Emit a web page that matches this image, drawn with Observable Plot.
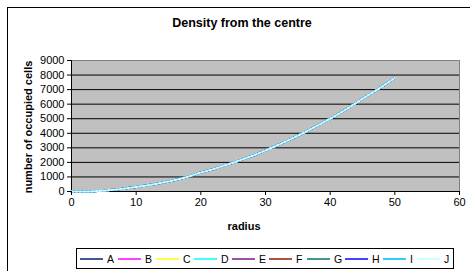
<!DOCTYPE html>
<html><head><meta charset="utf-8">
<script src="https://cdn.jsdelivr.net/npm/d3@7"></script>
<script src="https://cdn.jsdelivr.net/npm/@observablehq/plot@0.6"></script>
<style>
html,body{margin:0;padding:0;background:#fff;overflow:hidden;}
#chart{position:relative;width:470px;height:271px;overflow:hidden;font-family:Arial,"Liberation Sans",sans-serif;color:#000;}
#border{position:absolute;left:7px;top:7px;width:540px;height:340px;border:1px solid #000;box-sizing:border-box;}
#plot{position:absolute;left:0;top:0;}
#title{position:absolute;left:0;width:484px;top:16px;text-align:center;font-weight:bold;font-size:12.5px;}
#xlabel{position:absolute;left:164px;width:160px;top:220px;text-align:center;font-weight:bold;font-size:11px;}
#ylabel{position:absolute;left:28px;top:127px;transform:translate(-50%,-50%) rotate(-90deg);white-space:nowrap;font-weight:bold;font-size:11px;}
#legend{position:absolute;left:76px;top:248px;width:378px;height:21px;border:1px solid #000;box-sizing:border-box;font-size:10.5px;}
.item{position:absolute;top:0;height:19px;display:flex;align-items:center;}
.sw{width:23px;height:2px;margin-right:4px;}
</style>
</head><body>
<div id="chart">
  <div id="border"></div>
  <div id="plot"></div>
  <div id="title">Density from the centre</div>
  <div id="ylabel">number of occupied cells</div>
  <div id="xlabel">radius</div>
  <div id="legend"></div>
</div>
<script>
const radius = [0,1,2,3,4,5,6,7,8,9,10,11,12,13,14,15,16,17,18,19,20,21,22,23,24,25,26,27,28,29,30,31,32,33,34,35,36,37,38,39,40,41,42,43,44,45,46,47,48,49,50];
const cells = [0,0,0,5,30,60,100,140,190,250,310,370,440,520,600,690,790,890,1020,1160,1300,1420,1550,1690,1830,1980,2140,2300,2460,2630,2820,3010,3210,3410,3620,3830,4050,4290,4520,4760,5000,5260,5520,5790,6080,6370,6650,6920,7200,7500,7800];
const seriesNames = ["A","B","C","D","E","F","G","H","I","J"];
const seriesColors = ["#44549a","#ff44ff","#ffff44","#44ffff","#a050a8","#b05040","#409890","#4444ff","#33ccff","#ccffff"];
const xTicks = [0,10,20,30,40,50,60];
const yTicks = [0,1000,2000,3000,4000,5000,6000,7000,8000,9000];
const gridTicks = [1000,2000,3000,4000,5000,6000,7000,8000];
const legendX = [3,41,79,117,155,192,230,268,306,340];

const data = seriesNames.flatMap(s => radius.map((r, j) => ({series: s, radius: r, cells: cells[j]})));

const lineMarks = seriesNames.map(s =>
  Plot.line(data.filter(d => d.series === s), {
    x: "radius", y: "cells", stroke: "series", strokeWidth: 2,
    strokeDasharray: s === "J" ? "2,2" : null
  })
);

const chart = Plot.plot({
  width: 470, height: 271,
  marginLeft: 71, marginRight: 11, marginTop: 60, marginBottom: 80,
  style: {background: "transparent", fontFamily: "Arial, 'Liberation Sans', sans-serif", fontSize: "11px", color: "#000", overflow: "visible"},
  x: {domain: [0, 60], label: null},
  y: {domain: [0, 9000], label: null},
  color: {domain: seriesNames, range: seriesColors},
  marks: [
    Plot.frame({fill: "#C0C0C0", stroke: "#808080"}),
    Plot.gridY(gridTicks, {stroke: "#000", strokeOpacity: 1}),
    Plot.ruleX([0], {stroke: "#000"}),
    Plot.ruleY([0], {stroke: "#000"}),
    ...lineMarks,
    Plot.axisX(xTicks, {tickSize: 4, tickPadding: 3, label: null}),
    Plot.axisY(yTicks, {tickSize: 4, tickPadding: 3, label: null, tickFormat: d3.format("d")})
  ]
});
document.getElementById("plot").appendChild(chart);

const legend = document.getElementById("legend");
seriesNames.forEach((s, i) => {
  const it = document.createElement("div");
  it.className = "item";
  it.style.left = legendX[i] + "px";
  it.innerHTML = `<div class="sw" style="background:${seriesColors[i]}"></div><span>${s}</span>`;
  legend.appendChild(it);
});
</script>
</body></html>
